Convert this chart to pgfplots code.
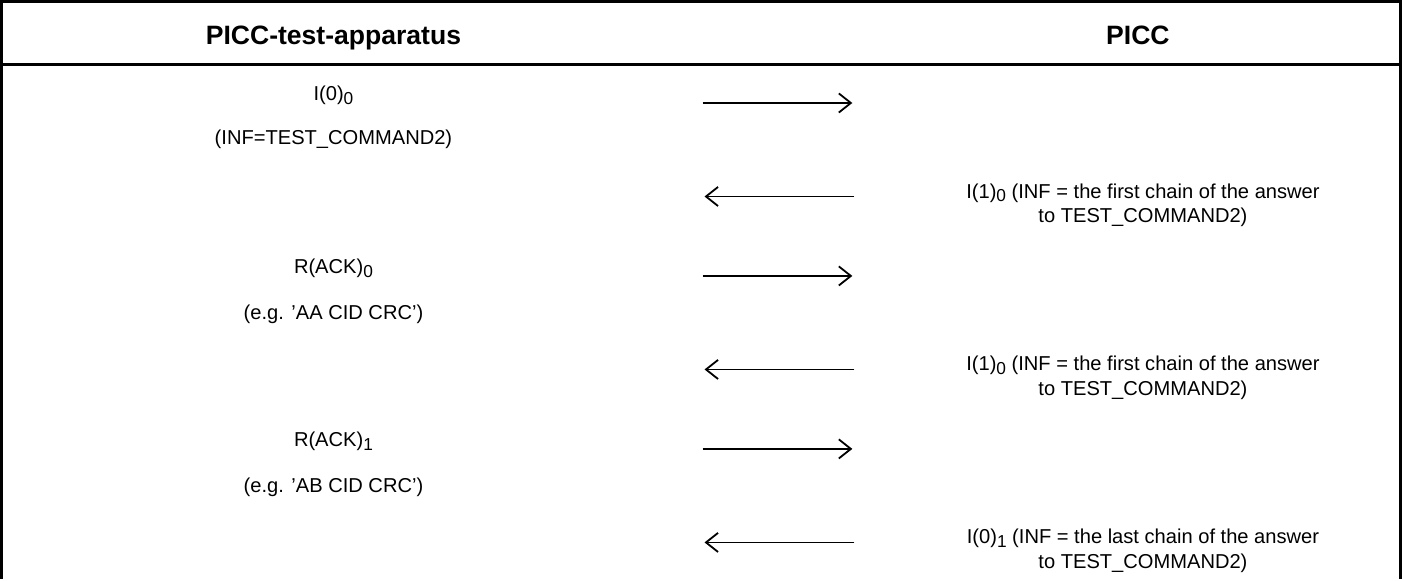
\documentclass[border=0pt]{standalone}
\usepackage{fontspec}
\setmainfont{Liberation Sans}
\usepackage{pgfplots}
\pgfplotsset{compat=1.18}
\usetikzlibrary{arrows.meta}
\newcommand{\sub}[1]{\raisebox{-1.8pt}{\fontsize{8.6}{9}\selectfont #1}}
\begin{document}
\begin{tikzpicture}
\begin{axis}[width=701pt,height=291.5pt,scale only axis,
  xmin=0,xmax=1402,ymin=0,ymax=583,y dir=reverse,hide axis,clip=false,
  every node/.style={inner sep=0pt,font=\fontsize{13.2}{13.6}\selectfont}]
% frame
\addplot[line width=1.4pt] coordinates {(5,583)(5,9)(1396,9)(1396,583)};
\addplot[line width=1.6pt] coordinates {(5,72)(1396,72)};
% arrows to PICC
\addplot[line width=0.85pt,-{Straight Barb[length=6pt,width=9.5pt,line width=0.9pt]}] coordinates {(702,110)(851,110)};
\addplot[line width=0.85pt,-{Straight Barb[length=6pt,width=9.5pt,line width=0.9pt]}] coordinates {(702,282)(851,282)};
\addplot[line width=0.85pt,-{Straight Barb[length=6pt,width=9.5pt,line width=0.9pt]}] coordinates {(702,454)(851,454)};
% arrows from PICC
\addplot[line width=0.85pt,-{Straight Barb[length=6pt,width=9.5pt,line width=0.9pt]}] coordinates {(853,203)(704,203)};
\addplot[line width=0.85pt,-{Straight Barb[length=6pt,width=9.5pt,line width=0.9pt]}] coordinates {(853,375)(704,375)};
\addplot[line width=0.85pt,-{Straight Barb[length=6pt,width=9.5pt,line width=0.9pt]}] coordinates {(853,547)(704,547)};
% headers
\node[anchor=base,font=\fontsize{13.2}{14}\selectfont\bfseries] at (axis cs:335,51.5) {PICC-test-apparatus};
\node[anchor=base,font=\fontsize{13.2}{14}\selectfont\bfseries] at (axis cs:1135,51.5) {PICC};
% left column
\node[anchor=base] at (axis cs:335,107.5) {I(0)\sub{0}};
\node[anchor=base] at (axis cs:335,151.5) {(INF=TEST\_COMMAND2)};
\node[anchor=base] at (axis cs:335,279.5) {R(ACK)\sub{0}};
\node[anchor=base] at (axis cs:335,325.5) {(e.g. ’AA CID CRC’)};
\node[anchor=base] at (axis cs:335,451.5) {R(ACK)\sub{1}};
\node[anchor=base] at (axis cs:335,497.5) {(e.g. ’AB CID CRC’)};
% right column (anchor base = baseline of the last line)
\node[anchor=base,align=center] at (axis cs:1140,228.5) {I(1)\sub{0} (INF = the first chain of the answer\\to TEST\_COMMAND2)};
\node[anchor=base,align=center] at (axis cs:1140,400.5) {I(1)\sub{0} (INF = the first chain of the answer\\to TEST\_COMMAND2)};
\node[anchor=base,align=center] at (axis cs:1140,572.5) {I(0)\sub{1} (INF = the last chain of the answer\\to TEST\_COMMAND2)};
\end{axis}
\end{tikzpicture}
\end{document}
